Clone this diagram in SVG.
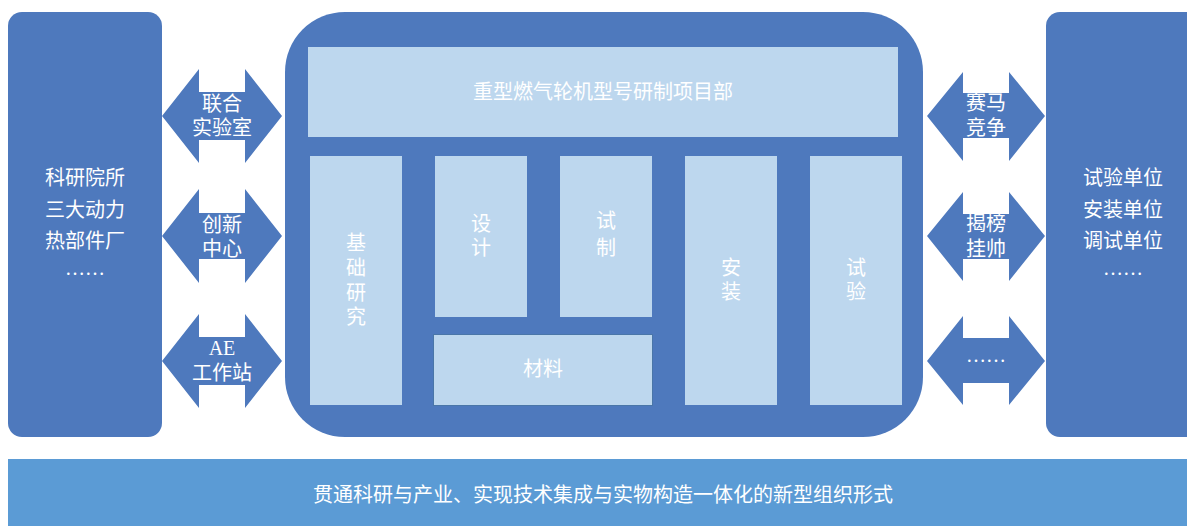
<svg xmlns="http://www.w3.org/2000/svg" width="1187" height="526" viewBox="0 0 1187 526">
<style>
.dk{fill:#4E79BD}
.lt{fill:#BDD7EE}
.t{font-family:"Liberation Serif","Noto Sans CJK SC",serif;font-size:20px;fill:#FFFFFF;text-anchor:middle}
</style>
<rect width="1187" height="526" fill="#FFFFFF"/>
<g id="left-box">
<rect class="dk" x="8" y="12" width="154" height="425" rx="14"/>
<text class="t" x="85" y="185">科研院所</text>
<text class="t" x="85" y="217">三大动力</text>
<text class="t" x="85" y="248">热部件厂</text>
<text class="t" x="85" y="275">……</text>
</g>
<g id="right-box">
<rect class="dk" x="1046" y="12" width="160" height="425" rx="14"/>
<text class="t" x="1123" y="185">试验单位</text>
<text class="t" x="1123" y="217">安装单位</text>
<text class="t" x="1123" y="248">调试单位</text>
<text class="t" x="1123" y="275">……</text>
</g>
<g id="center">
<rect class="dk" x="285" y="12" width="638" height="425" rx="60"/>
</g>
<g id="header">
<rect class="lt" x="308" y="47" width="590" height="90"/>
<text class="t" x="603" y="99">重型燃气轮机型号研制项目部</text>
</g>
<g id="jichu">
<rect class="lt" x="310" y="156" width="92" height="249"/>
<text class="t" x="356" y="250">基</text>
<text class="t" x="356" y="275">础</text>
<text class="t" x="356" y="300">研</text>
<text class="t" x="356" y="324">究</text>
</g>
<g id="sheji">
<rect class="lt" x="435" y="156" width="92" height="161"/>
<text class="t" x="481" y="231">设</text>
<text class="t" x="481" y="255">计</text>
</g>
<g id="shizhi">
<rect class="lt" x="560" y="156" width="92" height="161"/>
<text class="t" x="606" y="228">试</text>
<text class="t" x="606" y="255">制</text>
</g>
<g id="cailiao">
<rect class="lt" x="433.5" y="334.5" width="219" height="71" stroke="#4A76A8" stroke-width="1"/>
<text class="t" x="543" y="376">材料</text>
</g>
<g id="anzhuang">
<rect class="lt" x="685" y="156" width="92" height="249"/>
<text class="t" x="731" y="275">安</text>
<text class="t" x="731" y="299">装</text>
</g>
<g id="shiyan">
<rect class="lt" x="810" y="156" width="92" height="249"/>
<text class="t" x="856" y="275">试</text>
<text class="t" x="856" y="299">验</text>
</g>
<g id="connectors">
<g id="arrow-lianhe">
<polygon class="dk" points="162,116 199,69 199,92 245,92 245,69 282,116 245,163 245,140 199,140 199,163"/>
<text class="t" x="222" y="111">联合</text>
<text class="t" x="222" y="135">实验室</text>
</g>
<g id="arrow-chuangxin">
<polygon class="dk" points="162,236 199,189 199,213 245,213 245,189 282,236 245,283 245,259 199,259 199,283"/>
<text class="t" x="222" y="232">创新</text>
<text class="t" x="222" y="256">中心</text>
</g>
<g id="arrow-ae">
<polygon class="dk" points="162,361 199,314 199,337 245,337 245,314 282,361 245,408 245,385 199,385 199,408"/>
<text class="t" x="222" y="355">AE</text>
<text class="t" x="222" y="380">工作站</text>
</g>
<g id="arrow-saima">
<polygon class="dk" points="927,116 963,72 963,93 1009,93 1009,72 1045,116 1009,161 1009,138 963,138 963,161"/>
<text class="t" x="986" y="110">赛马</text>
<text class="t" x="986" y="135">竞争</text>
</g>
<g id="arrow-jiebang">
<polygon class="dk" points="927,236 963,192 963,214 1009,214 1009,192 1045,236 1009,281 1009,259 963,259 963,281"/>
<text class="t" x="986" y="231">揭榜</text>
<text class="t" x="986" y="256">挂帅</text>
</g>
<g id="arrow-more">
<polygon class="dk" points="927,361 963,316 963,338 1009,338 1009,316 1045,361 1009,405 1009,383 963,383 963,405"/>
<text class="t" x="986" y="362">……</text>
</g>
</g>
<g id="bottom-bar">
<rect x="8" y="459" width="1179" height="67" fill="#5B9BD5"/>
<text class="t" x="603" y="502">贯通科研与产业、实现技术集成与实物构造一体化的新型组织形式</text>
</g>
</svg>
